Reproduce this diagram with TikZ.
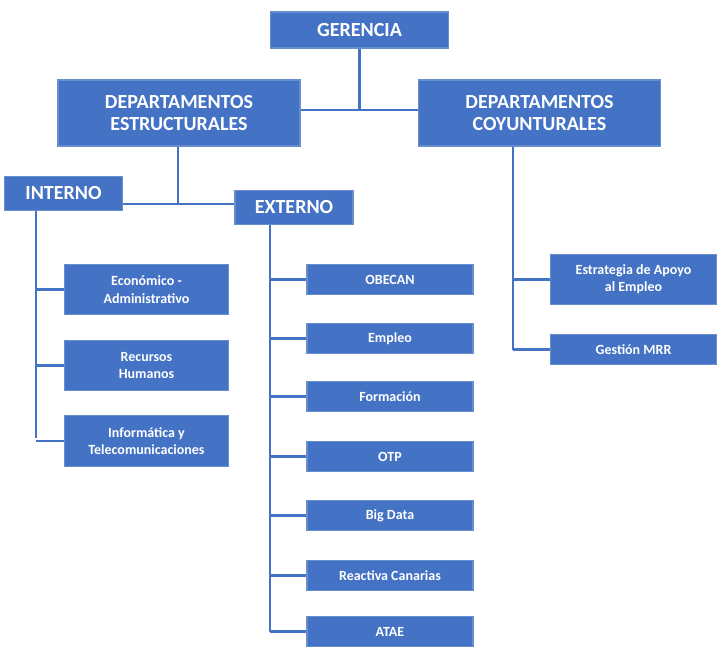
\documentclass[tikz,border=0pt]{standalone}
\usepackage{fontspec}
\setmainfont{Carlito}
\definecolor{bl}{HTML}{4472C4}
\begin{document}
\begin{tikzpicture}[x=0.75pt,y=-0.75pt,
 bx/.style={fill=bl,draw=bl!80!white,line width=0.8pt,text=white,font=\bfseries,align=center,inner sep=0pt},
 big/.style={bx,font=\fontsize{15}{17}\selectfont\bfseries},
 sm/.style={bx,font=\fontsize{10.5}{13}\selectfont\bfseries},
 ln/.style={draw=bl,line width=2.2pt}]
\useasboundingbox (0,0) rectangle (720,668);
\newcommand{\bxat}[6]{\node[#1,minimum width=#4*0.75pt,minimum height=#5*0.75pt] (#6) at (#2,#3) {#6text};}
\node[big,minimum width=134pt,minimum height=27pt] (ger) at (359.5,30) {GERENCIA};
\node[big,minimum width=181.5pt,minimum height=49.5pt] (est) at (179,113) {DEPARTAMENTOS\\ESTRUCTURALES};
\node[big,minimum width=182pt,minimum height=49.5pt] (coy) at (539.5,113) {DEPARTAMENTOS\\COYUNTURALES};
\node[big,minimum width=89pt,minimum height=26pt] (int) at (63.5,193.5) {INTERNO};
\node[big,minimum width=88.5pt,minimum height=26pt] (ext) at (294,207.5) {EXTERNO};
% interno children
\node[sm,minimum width=123.5pt,minimum height=38pt] (eco) at (146.5,289.5) {Económico -\\Administrativo};
\node[sm,minimum width=123.5pt,minimum height=38pt] (rh) at (146.5,365.5) {Recursos\\Humanos};
\node[sm,minimum width=123.5pt,minimum height=38pt] (inf) at (146.5,441) {Informática y\\Telecomunicaciones};
% externo children
\foreach \n/\t/\y in {obe/OBECAN/279.5, emp/Empleo/338.5, for/Formación/396.5, otp/OTP/456.5, big/Big Data/515.5, rea/Reactiva Canarias/575.5, ata/ATAE/631.5}
  \node[sm,minimum width=124.5pt,minimum height=23pt] (\n) at (390,\y) {\t};
% coyunturales children
\node[sm,minimum width=125pt,minimum height=38pt] (eaa) at (633.5,279.5) {Estrategia de Apoyo\\al Empleo};
\node[sm,minimum width=125pt,minimum height=23pt] (mrr) at (633.5,349.5) {Gestión MRR};
% connectors
\begin{scope}[on background layer/.style={}]
\end{scope}
\coordinate (j1) at (359.5,110);
\draw[ln] (ger.south) -- (j1);
\draw[ln] (est.east |- j1) -- (coy.west |- j1);
\coordinate (j2) at (178,204);
\draw[ln] (est.south -| j2) -- (j2);
\draw[ln] (int.east |- j2) -- (ext.west |- j2);
\coordinate (ib) at (36,438);
\draw[ln] (int.south -| ib) -- (ib);
\foreach \c in {eco,rh,inf} \draw[ln] (\c.west) -- (\c.west -| ib);
\coordinate (eb) at (270,631.5);
\draw[ln] (ext.south -| eb) -- (eb);
\foreach \c in {obe,emp,for,otp,big,rea,ata} \draw[ln] (\c.west) -- (\c.west -| eb);
\coordinate (cb) at (513,349.5);
\draw[ln] (coy.south -| cb) -- (cb);
\foreach \c in {eaa,mrr} \draw[ln] (\c.west) -- (\c.west -| cb);
\end{tikzpicture}
\end{document}
